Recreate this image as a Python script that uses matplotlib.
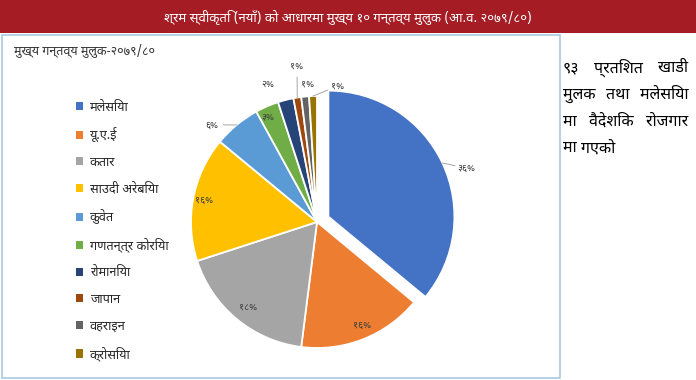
import matplotlib
matplotlib.use("Agg")
import matplotlib.pyplot as plt
from matplotlib import font_manager as fm
from matplotlib.patches import Rectangle
import numpy as np

# ---------------- data ----------------
countries = ["मलेसिया", "यू.ए.ई", "कतार", "साउदी अरेबिया", "कुवेत",
             "गणतन्त्र कोरिया", "रोमानिया", "जापान", "वहराइन", "क्रोसिया"]
shares = [36, 16, 18, 16, 6, 3, 2, 1, 1, 1]
pct_labels = ["३६%", "१६%", "१८%", "१६%", "६%", "३%", "२%", "१%", "१%", "१%"]
title_text = "श्रम स्वीकृति (नयाँ) को आधारमा मुख्य १० गन्तव्य मुलुक (आ.व. २०७९/८०)"
subtitle_text = "मुख्य गन्तव्य मुलुक-२०७९/८०"
side_lines = [["९३", "प्रतिशत", "खाडी"],
              ["मुलक", "तथा", "मलेसिया"],
              ["मा", "वैदेशिक", "रोजगार"],
              ["मा", "गएको"]]

colors = ["#4472C4", "#ED7D31", "#A5A5A5", "#FFC000", "#5B9BD5",
          "#70AD47", "#264478", "#9E480E", "#636363", "#997300"]

# ---------------- fonts ----------------
available = {f.name for f in fm.fontManager.ttflist}
preferred = ["Noto Sans Devanagari", "Noto Serif Devanagari", "Mukta", "Hind",
             "Poppins", "Tiro Devanagari Hindi", "Yantramanav", "Sarala"]
dev = [n for n in preferred if n in available]
FAM = dev[:1] + ["DejaVu Sans"]
plt.rcParams["font.family"] = FAM

W, H = 696, 380
fig = plt.figure(figsize=(W / 100, H / 100), dpi=100)

def fx(px):
    return px / W

def fy(py):
    return 1 - py / H

# banner
fig.patches.append(Rectangle((0, fy(33)), 1, 33 / H, transform=fig.transFigure,
                             facecolor="#A51C24", edgecolor="none", zorder=0))
fig.text(fx(348), fy(17), title_text, color="white", fontsize=9.5,
         fontweight="medium", ha="center", va="center")

# chart box border
fig.patches.append(Rectangle((fx(2), fy(378)), fx(558), (378 - 35) / H,
                             transform=fig.transFigure, facecolor="none",
                             edgecolor="#A9C8E0", linewidth=1.2, zorder=1))

fig.text(fx(14), fy(50), subtitle_text, color="#333333", fontsize=9,
         ha="left", va="center")

# ---------------- pie ----------------
cx, cy, r = 317, 222, 126
ax = fig.add_axes([fx(cx - r), fy(cy + r), 2 * r / W, 2 * r / H])
explode = [0.1, 0, 0, 0, 0, 0, 0, 0, 0, 0]
wedges, _ = ax.pie(shares, colors=colors, startangle=90, counterclock=False,
                   explode=explode, radius=1,
                   wedgeprops=dict(edgecolor="white", linewidth=1.3))
for w in wedges:
    w.set_clip_on(False)
ax.set_xlim(-1, 1)
ax.set_ylim(-1, 1)
ax.set_axis_off()

# label positions (pixel coords) and whether they get a leader line
lab_pos = [(466, 168), (362, 325), (248, 307), (204, 200), (212, 125),
           (268, 117), (268, 84), (297, 66), (308, 84), (338, 86)]
leader = [True, False, False, False, True, False, False, True, False, True]

angles = []
a0 = 90
tot = sum(shares)
for s in shares:
    a1 = a0 - 360 * s / tot
    angles.append((a0 + a1) / 2)
    a0 = a1

def to_data(px, py):
    return ((px - cx) / r, (cy - py) / r)

for i, (lab, (px, py)) in enumerate(zip(pct_labels, lab_pos)):
    x, y = to_data(px, py)
    ax.text(x, y, lab, fontsize=7, color="#404040", ha="center", va="center",
            clip_on=False)
    if leader[i]:
        th = np.deg2rad(angles[i])
        off = explode[i]
        ex = (1 + off) * np.cos(th)
        ey = (1 + off) * np.sin(th)
        dx, dy = x - ex, y - ey
        d = np.hypot(dx, dy)
        sx, sy = x - dx / d * 0.09, y - dy / d * 0.09
        ax.plot([ex, sx], [ey, sy], color="#A6A6A6", linewidth=0.7,
                clip_on=False)

# legend
leg = fig.legend(wedges, countries, loc="upper left",
                 bbox_to_anchor=(fx(64), fy(89)), frameon=False,
                 fontsize=9.2, handlelength=0.6, handleheight=0.6,
                 handletextpad=0.5, labelspacing=1.07, labelcolor="#262626")
for h in leg.legend_handles:
    h.set_edgecolor("none")

# ---------------- side text (justified) ----------------
fig.canvas.draw()
renderer = fig.canvas.get_renderer()
x0, x1 = 563, 688
line_y = [68, 95, 122, 148]
for li, words in enumerate(side_lines):
    objs = [fig.text(0, fy(line_y[li]), w_, fontsize=11.5, color="#000000",
                     fontweight="medium", ha="left", va="center")
            for w_ in words]
    widths = [o.get_window_extent(renderer).width for o in objs]
    if li < len(side_lines) - 1 and len(words) > 1:
        gap = (x1 - x0 - sum(widths)) / (len(words) - 1)
    else:
        gap = 4
    x = x0
    for o, wd in zip(objs, widths):
        o.set_x(fx(x))
        x += wd + gap

fig.savefig("out.png", dpi=100)
